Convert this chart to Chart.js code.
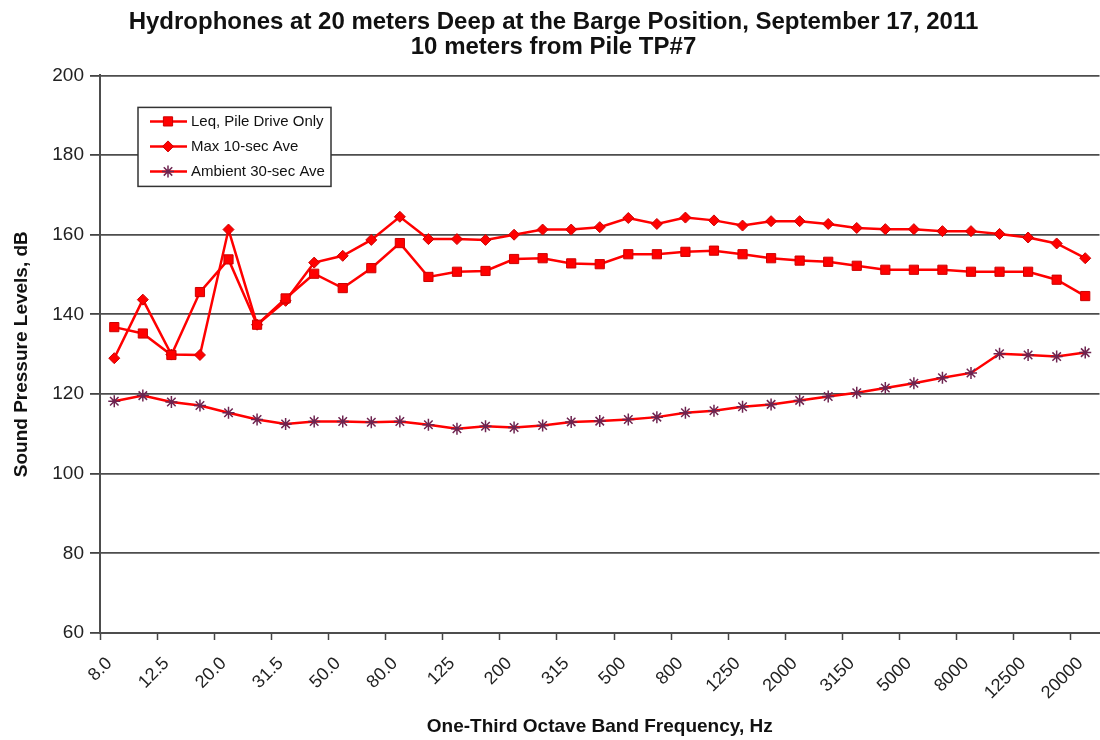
<!DOCTYPE html>
<html>
<head>
<meta charset="utf-8">
<title>Hydrophones at 20 meters Deep</title>
<script src="https://cdn.jsdelivr.net/npm/chart.js@4/dist/chart.umd.min.js"></script>
<style>
  html, body { margin: 0; padding: 0; background: #fff; overflow: hidden; }
  #wrap { width: 1107px; height: 740px; }
</style>
</head>
<body>
<div id="wrap"><canvas id="spl" width="1107" height="740"></canvas></div>
<script>
// one-third octave bands, Hz
const bands = ['8.0', '10.0', '12.5', '16.0', '20.0', '25.0', '31.5', '40.0', '50.0', '63.0',
  '80.0', '100', '125', '160', '200', '250', '315', '400', '500', '630',
  '800', '1000', '1250', '1600', '2000', '2500', '3150', '4000', '5000', '6300',
  '8000', '10000', '12500', '16000', '20000'];
const shownBands = ['8.0', '12.5', '20.0', '31.5', '50.0', '80.0', '125', '200', '315', '500',
  '800', '1250', '2000', '3150', '5000', '8000', '12500', '20000'];

const leqPileDrive = [136.8, 135.2, 129.8, 145.6, 153.8, 137.4, 144.0, 150.2, 146.6, 151.6,
  157.9, 149.4, 150.7, 150.9, 153.9, 154.1, 152.8, 152.6, 155.1, 155.1,
  155.7, 156.0, 155.1, 154.1, 153.5, 153.2, 152.2, 151.2, 151.2, 151.2,
  150.7, 150.7, 150.7, 148.7, 144.6];
const max10sec = [129.0, 143.7, 129.9, 129.8, 161.3, 137.4, 143.4, 153.0, 154.7, 158.7,
  164.5, 158.9, 158.9, 158.7, 160.0, 161.3, 161.3, 161.9, 164.2, 162.7,
  164.3, 163.6, 162.3, 163.4, 163.4, 162.7, 161.7, 161.4, 161.4, 160.9,
  160.9, 160.2, 159.3, 157.8, 154.1];
const ambient30sec = [118.2, 119.6, 118.0, 117.1, 115.3, 113.6, 112.5, 113.1, 113.1, 112.9,
  113.1, 112.3, 111.3, 111.9, 111.6, 112.1, 113.0, 113.2, 113.6, 114.2,
  115.3, 115.8, 116.8, 117.4, 118.4, 119.4, 120.3, 121.5, 122.7, 124.1,
  125.3, 130.1, 129.8, 129.4, 130.4];

const yTickValues = [60, 80, 100, 120, 140, 160, 180, 200];

Chart.defaults.font.family = '"Liberation Sans", Arial, sans-serif';
Chart.defaults.color = '#222';

// legend box drawn inside the plot, top-left
const insideLegend = {
  id: 'insideLegend',
  afterDraw(chart) {
    const ctx = chart.ctx;
    const area = chart.chartArea;
    const left = area.left + 38, top = area.top + 32;
    const w = 193, h = 79;
    ctx.save();
    ctx.fillStyle = '#fff';
    ctx.fillRect(left, top, w, h);
    ctx.strokeStyle = '#333';
    ctx.lineWidth = 1.5;
    ctx.strokeRect(left, top, w, h);

    chart.data.datasets.forEach((ds, i) => {
      const y = top + 14 + i * 25;
      ctx.strokeStyle = ds.borderColor;
      ctx.lineWidth = ds.borderWidth;
      ctx.beginPath();
      ctx.moveTo(left + 12, y);
      ctx.lineTo(left + 49, y);
      ctx.stroke();

      ctx.fillStyle = ds.pointBackgroundColor;
      ctx.strokeStyle = ds.pointBorderColor;
      ctx.lineWidth = ds.pointBorderWidth;
      if (Chart.helpers && Chart.helpers.drawPoint) {
        Chart.helpers.drawPoint(ctx, {
          pointStyle: ds.pointStyle, radius: ds.pointRadius,
          rotation: 0, borderWidth: ds.pointBorderWidth
        }, left + 30, y);
      }

      ctx.fillStyle = '#111';
      ctx.font = '15px "Liberation Sans", Arial, sans-serif';
      ctx.textBaseline = 'middle';
      ctx.textAlign = 'left';
      ctx.fillText(ds.label, left + 53, y);
    });
    ctx.restore();
  }
};

new Chart(document.getElementById('spl'), {
  type: 'line',
  data: {
    labels: bands,
    datasets: [
      {
        label: 'Leq, Pile Drive Only',
        data: leqPileDrive,
        borderColor: '#ff0000',
        backgroundColor: '#ff0000',
        borderWidth: 2.5,
        pointStyle: 'rect',
        pointRadius: 6.5,
        pointBackgroundColor: '#ff0000',
        pointBorderColor: '#cc0000',
        pointBorderWidth: 1
      },
      {
        label: 'Max 10-sec Ave',
        data: max10sec,
        borderColor: '#ff0000',
        backgroundColor: '#ff0000',
        borderWidth: 2.5,
        pointStyle: 'rectRot',
        pointRadius: 5.5,
        pointBackgroundColor: '#ff0000',
        pointBorderColor: '#cc0000',
        pointBorderWidth: 1
      },
      {
        label: 'Ambient 30-sec Ave',
        data: ambient30sec,
        borderColor: '#ff0000',
        backgroundColor: '#ff0000',
        borderWidth: 2.5,
        pointStyle: 'star',
        pointRadius: 6,
        pointBackgroundColor: '#6e2450',
        pointBorderColor: '#6e2450',
        pointBorderWidth: 1.5
      }
    ]
  },
  options: {
    responsive: false,
    animation: false,
    devicePixelRatio: 1,
    layout: { padding: 0 },
    scales: {
      x: {
        offset: true,
        afterFit: (s) => { s.height = 107; s.paddingLeft = 0; s.paddingRight = 0; },
        ticks: {
          autoSkip: false,
          minRotation: 45,
          maxRotation: 45,
          padding: 13,
          labelOffset: -5,
          color: '#222',
          font: { size: 18 },
          callback: (v, i) => shownBands.includes(bands[i]) ? bands[i] : ''
        },
        grid: {
          offset: true,
          drawOnChartArea: false,
          tickLength: 7,
          tickWidth: 1.5,
          tickColor: (c) => c.index % 2 === 0 ? '#444' : 'rgba(0,0,0,0)'
        },
        border: { color: '#4d4d4d', width: 2 },
        title: {
          display: true,
          text: 'One-Third Octave Band Frequency, Hz',
          color: '#111',
          font: { size: 19, weight: 'bold' },
          padding: { top: 0, bottom: 2 }
        }
      },
      y: {
        min: 60,
        max: 200,
        afterFit: (s) => { s.width = 100; },
        afterBuildTicks: (s) => { s.ticks = yTickValues.map(v => ({ value: v })); },
        ticks: { padding: 6, color: '#222', font: { size: 19 } },
        grid: { color: '#4d4d4d', lineWidth: 1.8, tickLength: 10, tickColor: '#444' },
        border: { color: '#4d4d4d', width: 2 },
        title: {
          display: true,
          text: 'Sound Pressure Levels, dB',
          color: '#111',
          font: { size: 19, weight: 'bold' },
          padding: { top: 10, bottom: 0 }
        }
      }
    },
    plugins: {
      legend: { display: false },
      tooltip: { enabled: false },
      title: {
        display: true,
        text: ['Hydrophones at 20 meters Deep at the Barge Position, September 17, 2011', '10 meters from Pile TP#7'],
        color: '#111',
        font: { size: 24, weight: 'bold', lineHeight: 1.05 },
        padding: { top: 10, bottom: 15 }
      }
    }
  },
  plugins: [insideLegend]
});
</script>
</body>
</html>
